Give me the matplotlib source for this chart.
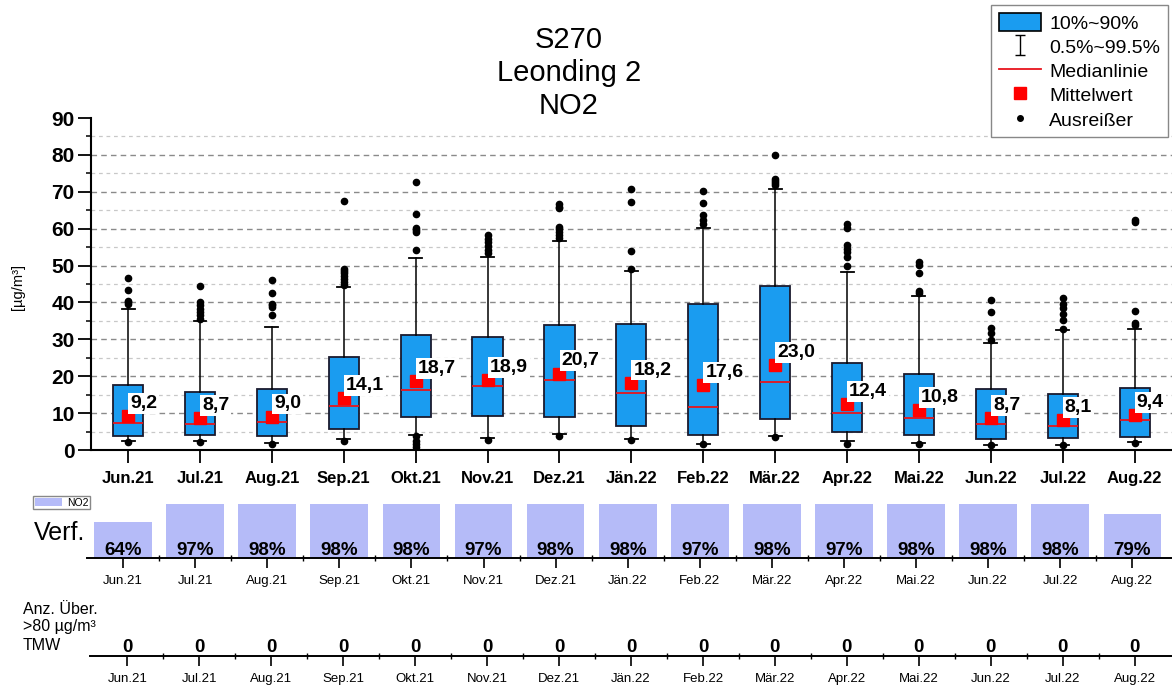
import numpy as np
import matplotlib
matplotlib.use("Agg")
import matplotlib.pyplot as plt
from matplotlib.patches import Patch
from matplotlib.lines import Line2D
from matplotlib.path import Path

plt.rcParams['font.family'] = ['Liberation Sans', 'DejaVu Sans']

months = ['Jun.21', 'Jul.21', 'Aug.21', 'Sep.21', 'Okt.21', 'Nov.21', 'Dez.21', 'Jän.22',
          'Feb.22', 'Mär.22', 'Apr.22', 'Mai.22', 'Jun.22', 'Jul.22', 'Aug.22']
q1 = [3.8, 4.0, 3.7, 5.7, 8.9, 9.3, 9.0, 6.6, 4.2, 8.3, 4.9, 4.0, 3.1, 3.2, 3.6]
q3 = [17.6, 15.7, 16.5, 25.1, 31.2, 30.5, 33.9, 34.1, 39.6, 44.5, 23.5, 20.7, 16.5, 15.1, 16.9]
medians = [7.4, 7.0, 7.7, 11.8, 16.3, 17.3, 19.0, 15.5, 11.6, 18.4, 10.0, 8.7, 7.0, 6.6, 8.1]
means = [9.2, 8.7, 9.0, 14.1, 18.7, 18.9, 20.7, 18.2, 17.6, 23.0, 12.4, 10.8, 8.7, 8.1, 9.4]
whis_lo = [2.5, 2.4, 2.0, 3.1, 4.1, 3.2, 4.3, 3.1, 1.6, 3.8, 2.4, 1.8, 1.4, 1.4, 2.1]
whis_hi = [38.1, 35.0, 33.4, 44.3, 52.0, 52.4, 56.7, 48.5, 60.3, 70.8, 48.2, 41.8, 29.1, 32.5, 32.8]
outliers = [
    [2.3, 39.5, 40.0, 40.4, 43.4, 46.5],
    [2.2, 35.6, 36.5, 37.4, 38.3, 39.2, 40.2, 44.4],
    [1.7, 36.6, 38.8, 39.3, 39.7, 42.6, 46.1],
    [2.4, 44.8, 45.6, 46.4, 47.2, 48.0, 48.6, 49.2, 67.5],
    [0.9, 1.6, 2.4, 3.8, 54.2, 59.2, 59.7, 60.1, 64.1, 72.7],
    [2.7, 53.3, 54.3, 55.3, 56.3, 57.3, 58.3],
    [3.9, 57.4, 58.2, 59.0, 59.8, 60.5, 65.5, 66.0, 66.6],
    [2.7, 49.2, 54.0, 67.1, 70.7],
    [1.6, 61.2, 62.3, 63.7, 67.0, 70.1],
    [3.4, 71.8, 72.4, 72.9, 73.4, 79.9],
    [1.6, 50.0, 52.4, 53.6, 54.6, 55.6, 60.3, 61.2],
    [1.6, 42.6, 43.2, 48.1, 50.2, 51.0],
    [1.3, 29.8, 31.8, 33.2, 37.4, 40.7],
    [1.3, 32.9, 35.2, 36.9, 38.4, 39.6, 41.1],
    [1.9, 34.0, 34.3, 37.7, 61.9, 62.3],
]
availability = [64, 97, 98, 98, 98, 97, 98, 98, 97, 98, 97, 98, 98, 98, 79]
exceedances = [0, 0, 0, 0, 0, 0, 0, 0, 0, 0, 0, 0, 0, 0, 0]

W, H = 1172, 687
fig = plt.figure(figsize=(W / 100, H / 100), dpi=100)

def box(l, b, r, t):
    return [l / W, 1 - b / H, (r - l) / W, (b - t) / H]

x = np.arange(len(months))

# main boxplot panel
ax = fig.add_axes(box(90.7, 450, 1172, 118))
stats = []
for i in range(len(months)):
    stats.append(dict(med=medians[i], q1=q1[i], q3=q3[i], whislo=whis_lo[i],
                      whishi=whis_hi[i], fliers=outliers[i], mean=means[i]))
ax.bxp(stats, positions=x, widths=0.42, patch_artist=True, showmeans=True,
       manage_ticks=False, capwidths=0.18,
       boxprops=dict(facecolor='#1a9cf0', edgecolor='#1a1a2e', linewidth=1.3),
       whiskerprops=dict(color='black', linewidth=1.1),
       capprops=dict(color='black', linewidth=1.3),
       medianprops=dict(color='#e8141c', linewidth=1.3),
       meanprops=dict(marker='s', markerfacecolor='#ff0000', markeredgecolor='#ff0000',
                      markersize=8),
       flierprops=dict(marker='o', markerfacecolor='black', markeredgecolor='black',
                       markersize=4.5))
for i, m in enumerate(means):
    ax.annotate(f"{m:.1f}".replace('.', ','), (x[i], m), xytext=(1.5, 6),
                textcoords='offset points', ha='left', va='baseline',
                fontsize=14, fontweight='bold', zorder=10,
                bbox=dict(boxstyle='square,pad=0.1', facecolor='white', edgecolor='none'))

ax.set_xlim(-0.52, 14.52)
ax.set_ylim(0, 90)
ax.set_yticks(np.arange(0, 91, 10))
ax.set_yticks(np.arange(5, 90, 10), minor=True)
ax.set_xticks(x)
ax.set_xticklabels(months, fontsize=12, fontweight='bold')
for lab in ax.get_yticklabels():
    lab.set_fontweight('bold')
ax.tick_params(axis='y', which='major', labelsize=15, length=9.5, width=1.3, pad=2)
ax.tick_params(axis='y', which='minor', length=3.5, width=1.1)
ax.tick_params(axis='x', which='major', length=9, width=1.3, pad=6)
ax.set_axisbelow(True)
ax.grid(axis='y', which='major', linestyle=(0, (4, 3)), color='#8a8a8a', linewidth=1.0)
ax.grid(axis='y', which='minor', linestyle=(0, (3, 3)), color='#c8c8c8', linewidth=0.9)
ax.get_ygridlines()[-1].set_visible(False)
for s in ['top', 'right']:
    ax.spines[s].set_visible(False)
for s in ['left', 'bottom']:
    ax.spines[s].set_linewidth(1.5)
fig.text(18 / W, 1 - 287 / H, '[µg/m³]', rotation=90, ha='center', va='center', fontsize=10.5)

fig.text(569 / W, 1 - 73 / H, 'S270\nLeonding 2\nNO2', ha='center', va='center',
         fontsize=21, linespacing=1.22)

ibar = Path([(-0.45, 1), (0.45, 1), (0, 1), (0, -1), (-0.45, -1), (0.45, -1)],
            [Path.MOVETO, Path.LINETO, Path.MOVETO, Path.LINETO, Path.MOVETO, Path.LINETO])
handles = [
    Patch(facecolor='#1a9cf0', edgecolor='black', linewidth=1.2),
    Line2D([], [], linestyle='none', marker=ibar, markersize=15, color='black',
           markerfacecolor='none', markeredgewidth=1.0),
    Line2D([], [], color='#e8141c', linewidth=1.3),
    Line2D([], [], linestyle='none', marker='s', markersize=8, color='#ff0000'),
    Line2D([], [], linestyle='none', marker='o', markersize=4, color='black'),
]
labels = ['10%~90%', '0.5%~99.5%', 'Medianlinie', 'Mittelwert', 'Ausreißer']
leg = fig.legend(handles, labels, loc='upper right', bbox_to_anchor=(1168 / W, 1 - 5 / H),
                 fontsize=14, frameon=True, fancybox=False, edgecolor='#888888',
                 framealpha=1, handlelength=2.2, handleheight=1.1, labelspacing=0.22,
                 borderpad=0.4, handletextpad=0.4, borderaxespad=0)
leg.get_frame().set_linewidth(1.0)

# availability panel
ax2 = fig.add_axes(box(87, 558, 1172, 500))
ax2.bar(x, availability, width=0.8, color='#b5bbf8', label='NO2')
for i, v in enumerate(availability):
    ax2.annotate(f"{v}%", (x[i], 0), xytext=(0, 2.5), textcoords='offset points',
                 ha='center', va='baseline', fontsize=13.5, fontweight='bold')
ax2.set_xlim(-0.5, 14.55)
ax2.set_ylim(0, 104.5)
ax2.set_yticks([])
ax2.set_xticks(x)
ax2.set_xticks(x[:-1] + 0.5, minor=True)
ax2.set_xticklabels(months, fontsize=9.5)
ax2.tick_params(axis='x', which='major', length=7, width=1.2, pad=5)
ax2.tick_params(axis='x', which='minor', length=5, width=1.0, direction='inout')
for s in ['top', 'right', 'left']:
    ax2.spines[s].set_visible(False)
ax2.spines['bottom'].set_linewidth(1.4)
fig.text(60 / W, 1 - 533 / H, 'Verf.', ha='center', va='center', fontsize=18)
ax2.legend(loc='upper left', bbox_to_anchor=(33 / W, 1 - 496 / H),
           bbox_transform=fig.transFigure, fontsize=7.5, frameon=True, fancybox=False,
           edgecolor='#888888', framealpha=1, handlelength=2.6, handleheight=0.9,
           borderpad=0.15, handletextpad=0.5, borderaxespad=0)

# exceedance panel
ax3 = fig.add_axes(box(90, 656, 1172, 630))
ax3.set_xlim(-0.52, 14.52)
ax3.set_ylim(0, 1)
for i, v in enumerate(exceedances):
    ax3.annotate(str(v), (x[i], 0), xytext=(0, 3), textcoords='offset points',
                 ha='center', va='baseline', fontsize=13.5, fontweight='bold')
ax3.set_yticks([])
ax3.set_xticks(x)
ax3.set_xticks(x[:-1] + 0.5, minor=True)
ax3.set_xticklabels(months, fontsize=9.5)
ax3.tick_params(axis='x', which='major', length=7, width=1.2, pad=5)
ax3.tick_params(axis='x', which='minor', length=5, width=1.0, direction='inout')
for s in ['top', 'right', 'left']:
    ax3.spines[s].set_visible(False)
ax3.spines['bottom'].set_linewidth(1.4)
fig.text(23 / W, 1 - 627 / H, 'Anz. Über.\n>80 µg/m³\nTMW', ha='left', va='center',
         fontsize=11.5, linespacing=1.25)

fig.savefig('out.png', dpi=100)
